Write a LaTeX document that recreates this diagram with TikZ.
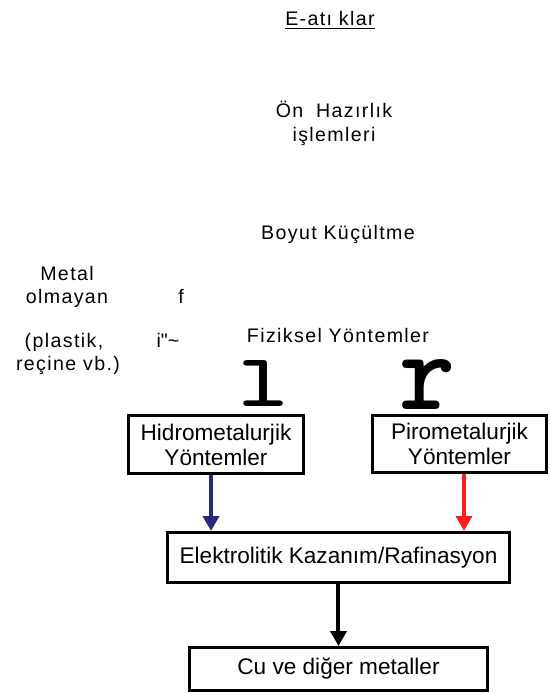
\documentclass[tikz,border=0pt]{standalone}
\usepackage{fontspec}
\setmainfont{Liberation Sans}
\usepackage{tikz}
\usetikzlibrary{arrows.meta}

\definecolor{hidromavi}{RGB}{40,40,130}
\definecolor{pirokirmizi}{RGB}{250,30,30}

\tikzset{
	etiket/.style={anchor=base,inner sep=0pt,font={\fontsize{9.8}{12}\selectfont\addfontfeature{LetterSpace=7}}},
	kutu/.style={draw,line width=1.5pt,align=center,inner sep=0pt,font={\fontsize{11.3}{12.5}\selectfont}},
	ok/.style={line width=2pt,-{Triangle[width=8pt,length=7.5pt]}},
	iri/.style={anchor=base,inner sep=0pt,font={\ttfamily\bfseries\addfontfeature{FakeBold=2.5}}}
}

\begin{document}
\begin{tikzpicture}[x=0.5pt,y=-0.5pt]
	\useasboundingbox (0,0) rectangle (550,693);
	
	\node[etiket] (eatik) at (330,25) {\underline{E-atı klar}};
	
	\node[etiket,align=center,anchor=center] (onhazirlik) at (334,123) {
		Ön\hspace{3pt} Hazırlık\\
		işlemleri
	};
	
	\node[etiket] (boyut) at (338,239) {Boyut Küçültme};
	
	\node[etiket] (metal) at (67,280) {Metal};
	\node[etiket] (olmayan) at (67,303) {olmayan};
	\node[etiket] (f) at (181,303) {f};
	\node[etiket] (plastik) at (64,347) {(plastik,};
	\node[etiket] (isaret) at (168,347) {i\textquotedbl\textasciitilde};
	\node[etiket] (recine) at (68,370) {reçine vb.)};
	
	\node[etiket] (fiziksel) at (338,342) {Fiziksel Yöntemler};
	
	\node[iri] (buyukl) at (263.5,406) {\resizebox{25pt}{23pt}{l}};
	\node[iri] (buyukr) at (428,409) {\resizebox{28pt}{25pt}{r}};
	
	\node[kutu,minimum width=87.5pt,minimum height=29pt] (hidro) at (216,444.5) {
		Hidrometalurjik\\
		Yöntemler
	};
	\node[kutu,minimum width=87pt,minimum height=28.5pt] (piro) at (459.5,444) {
		Pirometalurjik\\
		Yöntemler
	};
	\node[kutu,minimum width=171pt,minimum height=25pt] (elek) at (338.5,557.5) {Elektrolitik Kazanım/Rafinasyon};
	\node[kutu,minimum width=149pt,minimum height=21.5pt] (cu) at (338.5,669) {Cu ve diğer metaller};
	
	\draw[ok,hidromavi] ([xshift=-2.5pt]hidro.south) -- ([xshift=-2.5pt]hidro.south |- elek.north);
	\draw[ok,pirokirmizi] ([xshift=2.25pt]piro.south) -- ([xshift=2.25pt]piro.south |- elek.north);
	\draw[ok] (elek.south) -- (cu.north);
\end{tikzpicture}
\end{document}
